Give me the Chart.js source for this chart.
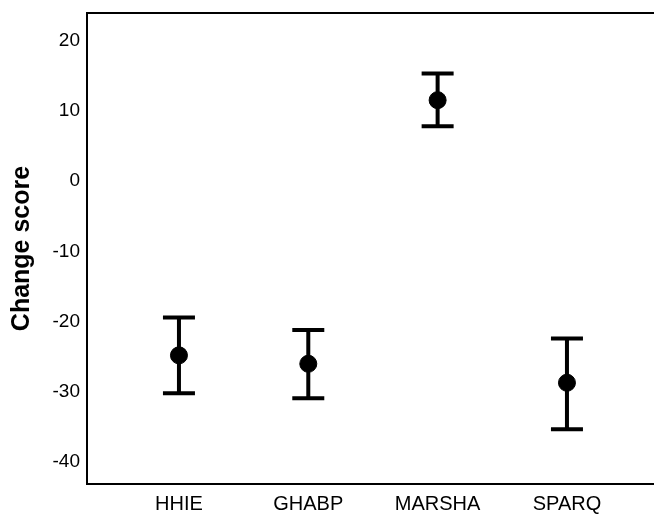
<!DOCTYPE html>
<html>
<head>
<meta charset="utf-8">
<script src="https://cdn.jsdelivr.net/npm/chart.js@4/dist/chart.umd.min.js"></script>
<style>
  html, body { margin: 0; padding: 0; background: #fff; }
  #wrap { width: 654px; height: 515px; }
</style>
</head>
<body>
<div id="wrap"><canvas id="chart"></canvas></div>
<script>
// chart data
const categories = ["HHIE", "GHABP", "MARSHA", "SPARQ"];
const means = [-24.8, -26.0, 11.5, -28.7];
const lowerCI = [-30.2, -30.9, 7.8, -35.3];
const upperCI = [-19.4, -21.2, 15.3, -22.4];
const yTicks = [20, 10, 0, -10, -20, -30, -40];

const points = categories.map((c, i) => ({ x: i + 1, y: means[i] }));

// draws the error bars and the top frame line
const errorBars = {
  id: "errorBars",
  beforeDatasetsDraw(chart) {
    const ctx = chart.ctx;
    const xs = chart.scales.x;
    const ys = chart.scales.y;
    ctx.save();
    ctx.strokeStyle = "#000";
    ctx.lineWidth = 4;
    ctx.lineCap = "butt";
    for (let i = 0; i < categories.length; i++) {
      const px = xs.getPixelForValue(i + 1);
      const top = ys.getPixelForValue(upperCI[i]);
      const bot = ys.getPixelForValue(lowerCI[i]);
      ctx.beginPath();
      ctx.moveTo(px, top);
      ctx.lineTo(px, bot);
      ctx.moveTo(px - 16, top);
      ctx.lineTo(px + 16, top);
      ctx.moveTo(px - 16, bot);
      ctx.lineTo(px + 16, bot);
      ctx.stroke();
    }
    // top border of the frame
    const area = chart.chartArea;
    ctx.lineWidth = 2;
    ctx.beginPath();
    ctx.moveTo(area.left - 1, area.top);
    ctx.lineTo(chart.width, area.top);
    ctx.stroke();
    ctx.restore();
  }
};

new Chart(document.getElementById("chart"), {
  type: "scatter",
  data: {
    datasets: [
      {
        data: points,
        backgroundColor: "#000",
        borderColor: "#000",
        pointRadius: 8.5,
        pointHoverRadius: 8.5,
      },
    ],
  },
  options: {
    responsive: true,
    maintainAspectRatio: false,
    animation: false,
    layout: { autoPadding: false, padding: { top: 13, right: 0, bottom: 0, left: 0 } },
    plugins: {
      legend: { display: false },
      tooltip: { enabled: false },
    },
    scales: {
      x: {
        type: "linear",
        min: 0.289,
        max: 4.673,
        grid: { display: false, drawTicks: false },
        border: { display: true, color: "#000", width: 2 },
        afterBuildTicks: (scale) => {
          scale.ticks = categories.map((c, i) => ({ value: i + 1 }));
        },
        afterFit: (scale) => {
          scale.height = 31;
          scale.paddingLeft = 0;
          scale.paddingRight = 0;
        },
        ticks: {
          autoSkip: false,
          maxRotation: 0,
          padding: 8,
          color: "#000",
          font: { family: "Liberation Sans, Arial, sans-serif", size: 20 },
          callback: (v) => categories[Math.round(v) - 1] || "",
        },
      },
      y: {
        min: -43.1,
        max: 23.9,
        grid: { display: false, drawTicks: false },
        border: { display: true, color: "#000", width: 2 },
        afterBuildTicks: (scale) => {
          scale.ticks = yTicks.map((v) => ({ value: v }));
        },
        afterFit: (scale) => {
          scale.width = 87;
          scale.paddingTop = 0;
          scale.paddingBottom = 0;
        },
        ticks: {
          padding: 7,
          color: "#000",
          font: { family: "Liberation Sans, Arial, sans-serif", size: 19 },
        },
        title: {
          display: true,
          text: "Change score",
          color: "#000",
          padding: { top: 7, bottom: 0 },
          font: { family: "Liberation Sans, Arial, sans-serif", size: 25, weight: "bold" },
        },
      },
    },
  },
  plugins: [errorBars],
});
</script>
</body>
</html>
